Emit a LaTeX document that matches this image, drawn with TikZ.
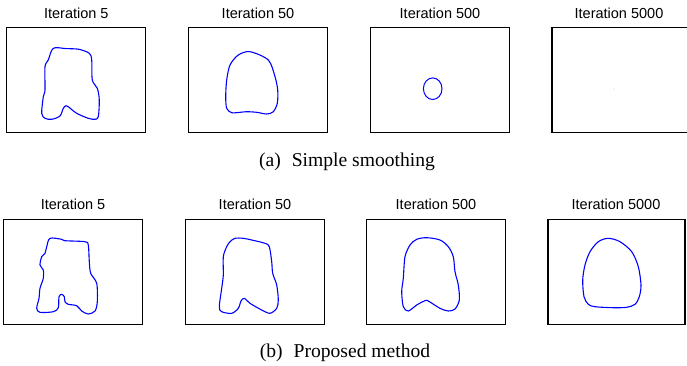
\documentclass[tikz,border=0pt]{standalone}
\usepackage{fontspec}
\setmainfont{Liberation Serif}
\newfontfamily\titlefont{Liberation Sans}
\begin{document}
\begin{tikzpicture}[x=1pt,y=-1pt,
  panel/.style={draw=black,line width=1.1pt,inner sep=0pt,outer sep=0pt,minimum width=139pt,minimum height=104.5pt,anchor=north west},
  ttl/.style={font=\titlefont\fontsize{14.5pt}{16pt}\selectfont,anchor=base,inner sep=0pt},
  captxt/.style={font=\fontsize{19.6pt}{21pt}\selectfont,anchor=base,inner sep=0pt},
  contour/.style={draw=blue,line width=1.1pt,line join=round}]
\useasboundingbox (0,0) rectangle (687,365);
% top row
\node[panel] (a1) at (6.8,27.7) {};
\node[panel] (a2) at (188.5,27.7) {};
\node[panel] (a3) at (370.4,27.7) {};
\node[panel] (a4) at (552,27.7) {};
\node[ttl] (ta1) at (76.3,18.3) {Iteration 5};
\node[ttl] (ta2) at (258,18.3) {Iteration 50};
\node[ttl] (ta3) at (440,18.3) {Iteration 500};
\node[ttl] (ta4) at (619,18.3) {Iteration 5000};
% bottom row
\node[panel] (b1) at (3.5,219.6) {};
\node[panel] (b2) at (185.4,219.6) {};
\node[panel] (b3) at (366.8,219.6) {};
\node[panel,minimum width=137pt] (b4) at (548,219.6) {};
\node[ttl] (tb1) at (73,209) {Iteration 5};
\node[ttl] (tb2) at (255,209) {Iteration 50};
\node[ttl] (tb3) at (436,209) {Iteration 500};
\node[ttl] (tb4) at (616,209) {Iteration 5000};
% captions
\node[captxt] (capa) at (347,166) {(a)\hspace{11pt}Simple smoothing};
\node[captxt] (capb) at (345,357.3) {(b)\hspace{11pt}Proposed method};
% contours top
\draw[contour] plot[smooth cycle] coordinates {(53.3,48.3) (66,48.6) (79,49.3) (89.3,53.3) (91.7,60) (92.3,80) (97.3,88.3) (99.3,100) (98.3,116.7) (95,119.3) (88.3,118.3) (76.7,113.3) (68.3,106.7) (66,105.7) (63.3,108.3) (60,116) (51.7,119.3) (45,118.3) (41.7,113.3) (43.3,96.7) (45,90) (45,66.7) (48.3,60)};
\draw[contour] plot[smooth cycle] coordinates {(250,51.7) (268.3,60) (275,76.7) (277.7,90) (277.3,103.3) (273.3,111.7) (266.7,114) (256.7,112.3) (246.7,111.7) (240,112.3) (231.7,112.7) (226.7,108.3) (225.7,96.7) (226.7,80) (230,65) (238.3,55)};
\draw[contour,line width=1pt] (432.7,88.7) ellipse [x radius=9.3pt, y radius=10.8pt];
\fill[blue!40] (614,89) circle (0.5pt);
% contours bottom
\draw[contour] plot[smooth cycle] coordinates {(50,238.3) (61.7,239.3) (65,240.7) (85,241.7) (88.3,245) (89.3,261.7) (90.7,273.3) (96.7,283.3) (97.3,301.7) (95,311) (88.3,314) (81.7,311) (76.7,305.7) (68.3,304.3) (65,301.7) (64.3,296.7) (61.7,294.3) (59,296.7) (58.3,307.7) (53.3,311.7) (40,312.3) (36.7,308.3) (39,298.3) (40,288.3) (43.3,278.3) (43.3,270) (40,265) (41.7,256.7) (45,253.3) (46.7,246.7)};
\draw[contour] plot[smooth cycle] coordinates {(235,238.3) (243.3,238.3) (251.7,240) (265,243.3) (269.3,246.7) (271.7,261.7) (272.7,273.3) (276.7,285) (278.3,300) (276.7,308.3) (270,313.3) (261.7,310) (250,303.3) (244.3,298.3) (241,301) (238.3,308.3) (231.7,313.3) (221.7,311.7) (219.3,306.7) (221.7,288.3) (223.3,275) (223.3,256.7) (226.7,246.7) (230,241.7)};
\draw[contour] plot[smooth cycle] coordinates {(426.7,237.7) (440,240) (448.3,246.7) (453.3,256.7) (455,271.7) (458.3,285) (459.3,300) (455,309) (448.3,311) (440,308.3) (428.3,301) (425,300.7) (416.7,305) (408.3,311) (403.3,306.7) (401.7,291.7) (403.3,278.3) (405,256.7) (410,245) (416.7,239.3)};
\draw[contour] plot[smooth cycle] coordinates {(608.3,238.3) (620,241.7) (631.7,251.7) (638.3,266.7) (641,285) (639.3,296.7) (635,304.3) (626.7,307.3) (613.3,307.7) (595,306.7) (588.3,304.3) (584,296.7) (582.7,280) (585,265) (590,251.7) (598.3,241.7)};
\end{tikzpicture}
\end{document}
